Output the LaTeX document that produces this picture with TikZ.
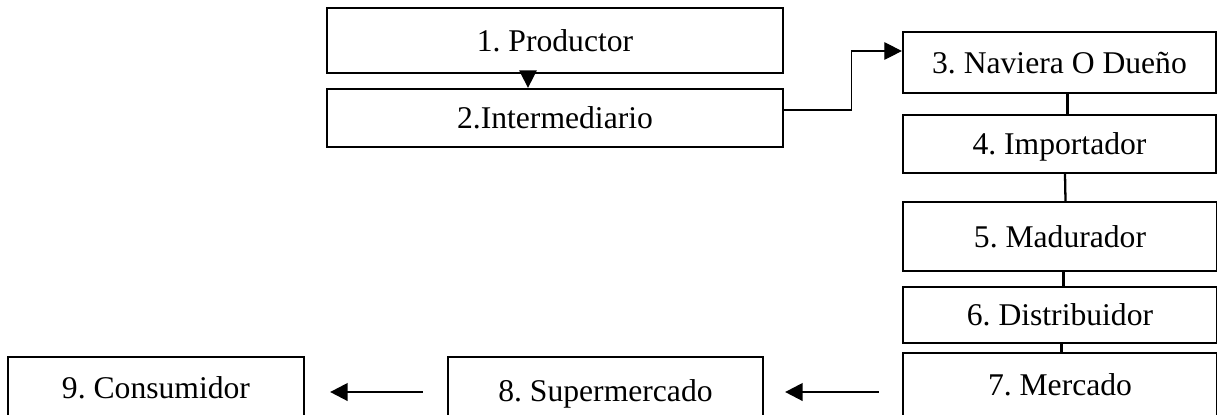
\documentclass[tikz,border=0pt]{standalone}
\usepackage{fontspec}
\setmainfont{Liberation Serif}
\usepackage{tikz}
\usetikzlibrary{arrows.meta,calc}
\frenchspacing

\begin{document}
\begin{tikzpicture}[x=0.02cm,y=0.02cm]
\tikzstyle{caja}=[draw=black, line width=1.3pt, inner sep=0pt, font=\fontsize{18}{22}\selectfont, text height=12pt, text depth=0pt]
\tikzstyle{flecha}=[-{Triangle[length=10pt,width=10pt]}]
\useasboundingbox (0,0) rectangle (1217,-414);
\clip (0,0) rectangle (1217,-414);
% cadena de arriba
\node [caja, minimum width=9.12cm, minimum height=1.3cm] (n1) at (555,-40.5) {1. Productor};
\node [caja, minimum width=9.12cm, minimum height=1.16cm] (n2) at (555,-118) {2.Intermediario};
% columna derecha
\node [caja, minimum width=6.26cm, minimum height=1.22cm] (n3) at (1059.5,-62.5) {3. Naviera O Due\~no};
\node [caja, minimum width=6.26cm, minimum height=1.16cm] (n4) at (1059.5,-144) {4. Importador};
\node [caja, minimum width=6.28cm, minimum height=1.38cm] (n5) at (1060,-236.5) {5. Madurador};
\node [caja, minimum width=6.28cm, minimum height=1.12cm] (n6) at (1060,-315) {6. Distribuidor};
\node [caja, minimum width=6.28cm, minimum height=1.3cm] (n7) at (1060,-385.4) {7. Mercado};
% fila de abajo
\node [caja, minimum width=6.3cm, minimum height=1.38cm] (n8) at (605.5,-391.4) {8. Supermercado};
\node [caja, minimum width=5.92cm, minimum height=1.26cm] (n9) at (156,-388.4) {9. Consumidor};
% conectores
\draw [flecha, line width=0.8pt] ($(n1.south)+(-27,0)$) -- ($(n2.north)+(-27,0)$);
\draw [flecha, line width=0.6pt] ($(n2.east)+(0,8)$) -- ++(67,0) |- ($(n3.west)+(0,11.5)$);
\foreach \a/\b/\s in {n3/n4/8, n4/n5/5.5, n5/n6/3.5, n6/n7/1.5}
  \draw [line width=1.3pt] ($(\a.south)+(\s,0)$) -- ($(\b.north)+(\s,0)$);
\draw [flecha, line width=1.4pt] ($(n7.west)+(-23,-6.6)$) -- ($(n8.east)+(21,-0.6)$);
\draw [flecha, line width=1.4pt] ($(n8.west)+(-24,-0.6)$) -- ($(n9.east)+(25,-3.6)$);
\end{tikzpicture}
\end{document}
